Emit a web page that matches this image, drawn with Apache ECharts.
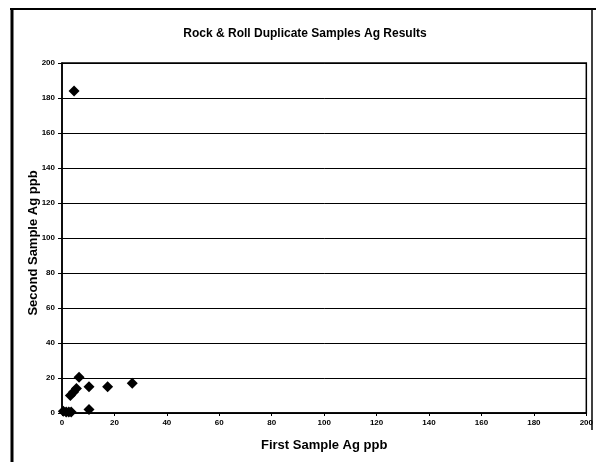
<!DOCTYPE html>
<html><head><meta charset="utf-8">
<script src="https://cdn.jsdelivr.net/npm/echarts@6/dist/echarts.min.js"></script>
<style>html,body{margin:0;padding:0;background:#fff}#c{width:596px;height:462px}</style>
</head><body><div id="c"></div>
<script>
const title = "Rock & Roll Duplicate Samples Ag Results";
const xName = "First Sample Ag ppb";
const yName = "Second Sample Ag ppb";
const firstSample = [4.6, 6.5, 3.2, 4.4, 5.5, 10.3, 17.4, 26.8, 10.3, 0.5, 1.6, 2.6, 3.5];
const secondSample = [184, 20.5, 10, 12, 14, 15, 15, 17, 2, 1, 0.6, 0.6, 0.6];
const axisMin = 0, axisMax = 200, axisStep = 20;

const chart = echarts.init(document.getElementById('c'), null, {renderer: 'canvas'});
const pts = firstSample.map((x, i) => [x, secondSample[i]]);
const font = 'Arial, "Liberation Sans", sans-serif';
chart.setOption({
  animation: false,
  backgroundColor: '#fff',
  title: {
    text: title, left: 300, top: 23, textAlign: 'center',
    textStyle: {fontFamily: font, fontSize: 12, fontWeight: 'bold', color: '#000'}
  },
  grid: {left: 62, right: 9, top: 63, bottom: 49, show: true, borderColor: '#000', borderWidth: 1.5},
  xAxis: {
    type: 'value', min: axisMin, max: axisMax, interval: axisStep,
    name: xName, nameLocation: 'middle', nameGap: 26,
    nameTextStyle: {fontFamily: font, fontSize: 13, fontWeight: 'bold', color: '#000'},
    axisLine: {show: true, lineStyle: {color: '#000', width: 1.5}},
    axisTick: {show: true, length: 3, lineStyle: {color: '#000'}},
    axisLabel: {fontFamily: font, fontSize: 8, fontWeight: 'bold', color: '#000', margin: 6},
    splitLine: {show: false}
  },
  yAxis: {
    type: 'value', min: axisMin, max: axisMax, interval: axisStep,
    name: yName, nameLocation: 'middle', nameGap: 22, nameMoveOverlap: false,
    nameTextStyle: {fontFamily: font, fontSize: 13, fontWeight: 'bold', color: '#000', padding: [0, 10, 0, 0]},
    axisLine: {show: true, lineStyle: {color: '#000', width: 1.5}},
    axisTick: {show: true, length: 4, lineStyle: {color: '#000'}},
    axisLabel: {fontFamily: font, fontSize: 8, fontWeight: 'bold', color: '#000', margin: 7},
    splitLine: {show: true, lineStyle: {color: '#000', width: 1}}
  },
  graphic: [
    {type: 'line', shape: {x1: 10, y1: 9, x2: 596, y2: 9}, style: {stroke: '#000', lineWidth: 2}, silent: true},
    {type: 'line', shape: {x1: 12, y1: 8, x2: 12, y2: 462}, style: {stroke: '#000', lineWidth: 3}, silent: true},
    {type: 'line', shape: {x1: 592, y1: 8, x2: 592, y2: 430}, style: {stroke: '#000', lineWidth: 1.5}, silent: true}
  ],
  series: [{
    type: 'scatter', data: pts, symbol: 'diamond', symbolSize: 11,
    itemStyle: {color: '#000', opacity: 1}
  }]
});
</script></body></html>
